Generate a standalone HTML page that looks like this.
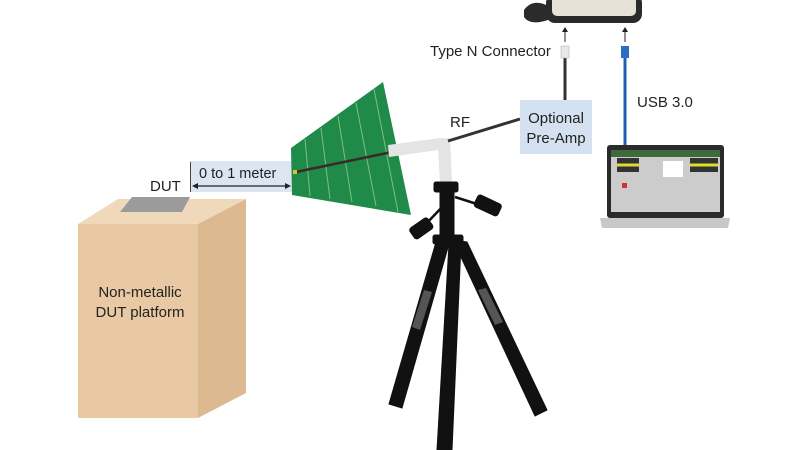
<!DOCTYPE html>
<html><head><style>body{margin:0;background:#fff}svg{display:block}text{font-family:"Liberation Sans",sans-serif;fill:#222}</style></head><body>
<svg width="800" height="450" viewBox="0 0 800 450" xmlns="http://www.w3.org/2000/svg">
<!-- box -->
<polygon points="78,224 118,199 246,199 198,224" fill="#f0d8bb"/>
<polygon points="198,224 246,199 246,393 198,418" fill="#ddb991"/>
<rect x="78" y="224" width="120" height="194" fill="#e9c9a4"/>
<polygon points="120,212 132,197 190,197 182,212" fill="#9b9b9b"/>
<text x="140" y="297" font-size="15" text-anchor="middle">Non-metallic</text>
<text x="140" y="317" font-size="15" text-anchor="middle">DUT platform</text>
<text x="150" y="191" font-size="15">DUT</text>
<!-- measure -->
<rect x="190" y="161" width="102" height="31" fill="#dce6f2"/>
<line x1="190.5" y1="162" x2="190.5" y2="192" stroke="#444"/>
<text x="199" y="178" font-size="14.5">0 to 1 meter</text>
<line x1="194" y1="186" x2="288" y2="186" stroke="#222" stroke-width="1.2"/>
<polygon points="192,186 198,183 198,189" fill="#222"/>
<polygon points="291,186 285,183 285,189" fill="#222"/>
<!-- antenna -->
<polygon points="291,148 383,82 411,215 292,195" fill="#1f8a4a"/>
<g stroke="#7fbf7a" stroke-width="1">
<line x1="305" y1="139" x2="310" y2="196"/><line x1="321" y1="128" x2="330" y2="199"/>
<line x1="338" y1="116" x2="352" y2="202"/><line x1="356" y1="103" x2="376" y2="206"/>
<line x1="374" y1="89" x2="398" y2="212"/>
</g>
<line x1="296" y1="172" x2="392" y2="152" stroke="#3a2a2a" stroke-width="2.5"/>
<rect x="293" y="170" width="4" height="4" fill="#e0c030"/>
<!-- bracket -->
<polygon points="388,145 440,138 450,138 452,182 440,182 438,150 389,157" fill="#e4e4e4"/>
<line x1="448" y1="141" x2="520" y2="119" stroke="#333" stroke-width="3"/>
<text x="450" y="127" font-size="15">RF</text>
<!-- preamp -->
<rect x="520" y="100" width="72" height="54" fill="#d4e1f1"/>
<text x="556" y="123" font-size="15" text-anchor="middle">Optional</text>
<text x="556" y="143" font-size="15" text-anchor="middle">Pre-Amp</text>
<line x1="565" y1="100" x2="565" y2="58" stroke="#333" stroke-width="3"/>
<rect x="561" y="46" width="8" height="12" fill="#e8e8e8" stroke="#aaa" stroke-width="0.5"/>
<line x1="565" y1="42" x2="565" y2="30" stroke="#222"/><polygon points="565,27 562,32 568,32" fill="#222"/>
<text x="430" y="56" font-size="15">Type N Connector</text>
<!-- usb -->
<line x1="625" y1="145" x2="625" y2="58" stroke="#1e5fb0" stroke-width="3"/>
<rect x="621" y="46" width="8" height="12" fill="#2a6fc4"/>
<line x1="625" y1="42" x2="625" y2="30" stroke="#222"/><polygon points="625,27 622,32 628,32" fill="#222"/>
<text x="637" y="107" font-size="15">USB 3.0</text>
<!-- device -->
<path d="M524,10 Q533,-2 548,6 L548,20 Q530,26 524,17 Z" fill="#2b2b2b"/>
<rect x="546" y="-6" width="96" height="29" rx="9" fill="#2a2a2a"/>
<rect x="552" y="-4" width="84" height="20" rx="5" fill="#e6e2d6"/>
<!-- laptop -->
<rect x="607" y="145" width="117" height="73" rx="3" fill="#2a2a2a"/>
<rect x="611" y="150" width="109" height="62" fill="#ccc"/>
<rect x="611" y="150" width="109" height="7" fill="#3e6a3e"/>
<rect x="617" y="158" width="22" height="14" fill="#333"/><rect x="690" y="158" width="28" height="14" fill="#333"/>
<line x1="617" y1="165" x2="639" y2="165" stroke="#dd3" stroke-width="3"/><line x1="690" y1="165" x2="718" y2="165" stroke="#dd3" stroke-width="3"/>
<rect x="663" y="161" width="20" height="16" fill="#fff"/>
<rect x="622" y="183" width="5" height="5" fill="#c33"/>
<path d="M600,218 L730,218 L728,228 L602,228 Z" fill="#c8c8c8"/>
<!-- tripod -->
<g fill="#111" stroke="#111">
<rect x="434" y="182" width="24" height="10" rx="2"/>
<rect x="440" y="190" width="14" height="50"/>
<line x1="444" y1="205" x2="425" y2="225" stroke-width="2.5"/>
<line x1="455" y1="197" x2="480" y2="205" stroke-width="2.5"/>
<rect x="410" y="222" width="22" height="13" rx="3" transform="rotate(-35 421 228)"/>
<rect x="475" y="199" width="26" height="13" rx="3" transform="rotate(25 488 205)"/>
<rect x="433" y="235" width="30" height="9" rx="2"/>
<polygon points="436,242 449,244 402,408 389,404" />
<polygon points="449,244 461,244 452,450 437,450"/>
<polygon points="453,240 467,242 547,410 535,416"/>
</g>
<polygon points="424,290 432,292 420,330 412,327" fill="#555"/>
<polygon points="478,290 486,288 503,322 495,325" fill="#555"/>
</svg>
</body></html>
